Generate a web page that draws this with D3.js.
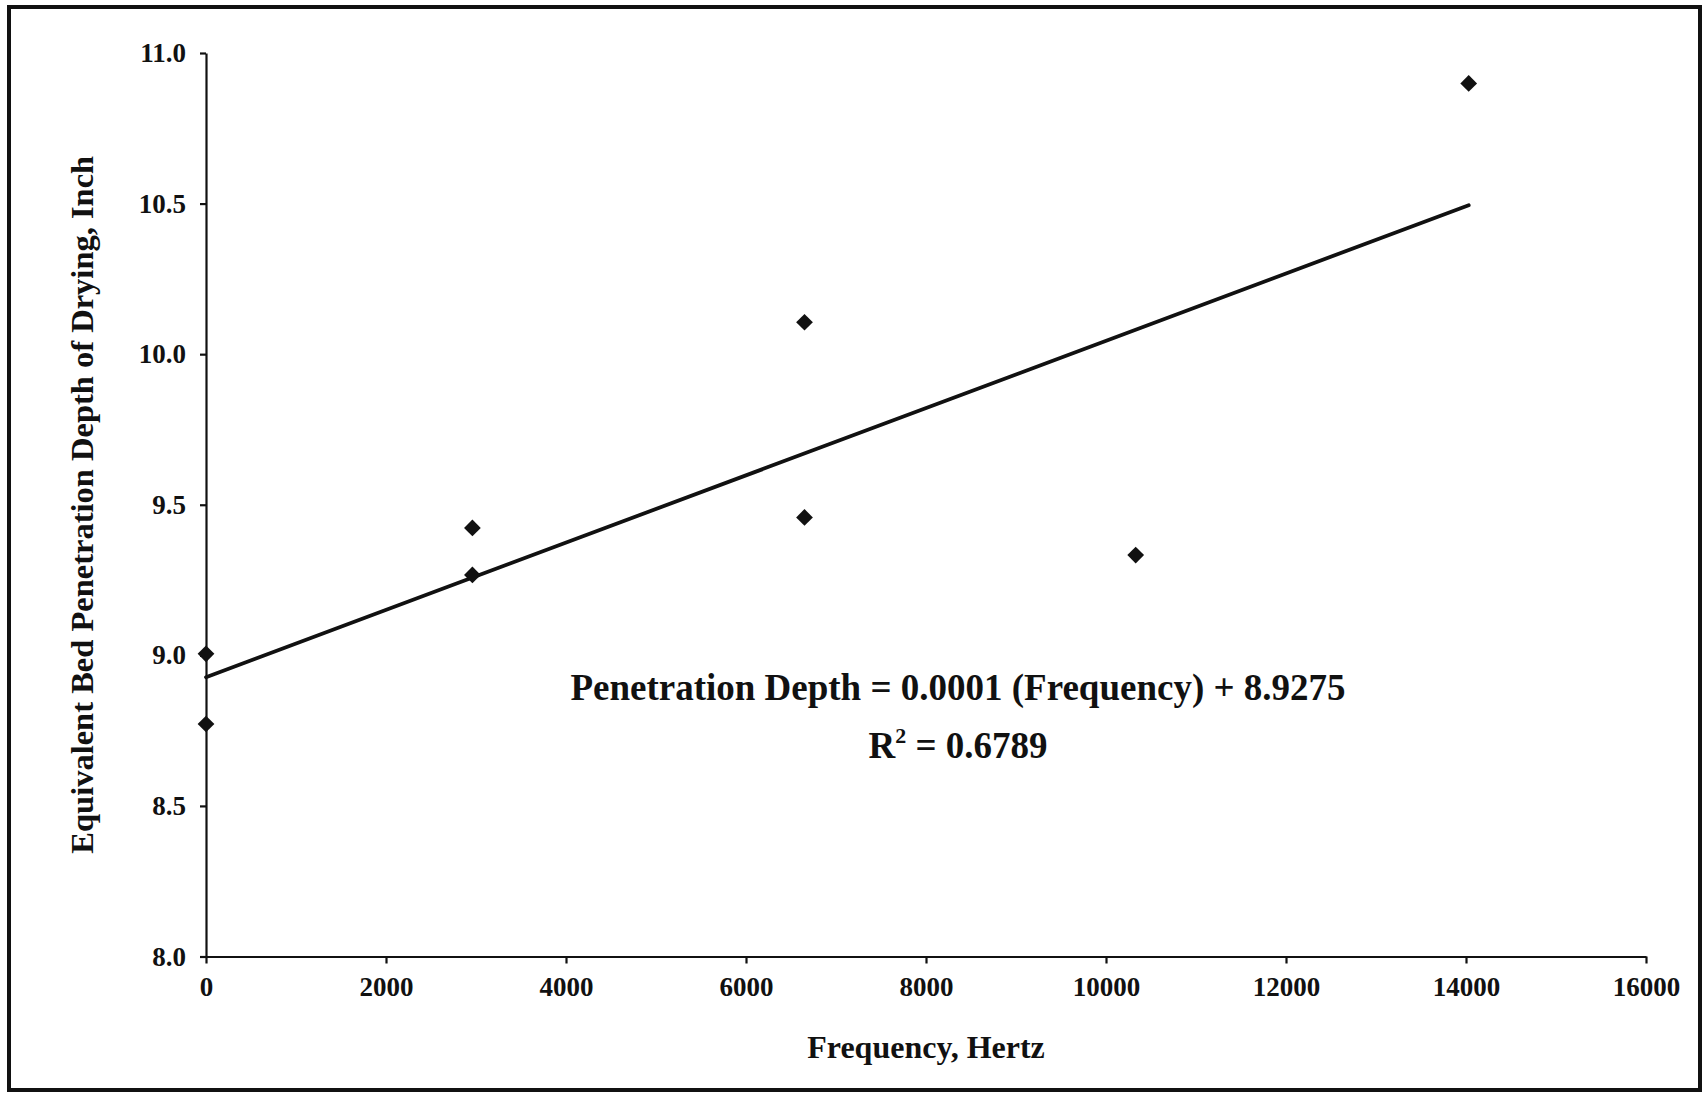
<!DOCTYPE html>
<html>
<head>
<meta charset="utf-8">
<script src="https://cdn.jsdelivr.net/npm/d3@7"></script>
<style>
  html, body { margin: 0; padding: 0; background: #fff; }
  svg { display: block; }
  text { font-family: "Liberation Serif", "Times New Roman", Times, serif; font-weight: bold; fill: #111; }
</style>
</head>
<body>
<svg id="chart" width="1707" height="1093"></svg>
<script>
// Measured samples: bed drying penetration depth vs. applied frequency
const frequency = [0, 0, 2960, 2960, 6650, 6650, 10330, 14030];
const depth = [9.005, 8.772, 9.423, 9.267, 10.106, 9.458, 9.333, 10.899];

// Axis ticks
const xTicks = [0, 2000, 4000, 6000, 8000, 10000, 12000, 14000, 16000];
const yTicks = [8.0, 8.5, 9.0, 9.5, 10.0, 10.5, 11.0];

// Linear fit drawn over the sampled frequency range
const fitIntercept = 8.9275;
const fitSlope = 0.0001117;
const fitRange = [0, 14030];

const xTitle = "Frequency, Hertz";
const yTitle = "Equivalent Bed Penetration Depth of Drying, Inch";
const fitLabel = "Penetration Depth = 0.0001 (Frequency) + 8.9275";
const r2Value = "0.6789";

const svg = d3.select("#chart");

// outer frame
svg.append("rect")
  .attr("x", 9).attr("y", 7)
  .attr("width", 1691).attr("height", 1083)
  .attr("fill", "none").attr("stroke", "#111").attr("stroke-width", 4);

const plot = { left: 206, right: 1646, top: 53, bottom: 956.5 };

const x = d3.scaleLinear().domain([0, 16000]).range([plot.left, plot.right]);
const y = d3.scaleLinear().domain([8, 11]).range([plot.bottom, plot.top]);

const tickFont = sel => sel
  .style("font-size", "27px")
  .attr("fill", "#111")
  .style("font-family", "'Liberation Serif', 'Times New Roman', serif")
  .style("font-weight", "bold");

// x axis
const xAxis = svg.append("g")
  .attr("transform", `translate(0,${plot.bottom})`)
  .call(d3.axisBottom(x).tickValues(xTicks).tickFormat(d3.format("d")).tickSizeInner(7).tickSizeOuter(0).tickPadding(13));
xAxis.select(".domain").attr("stroke", "#111").attr("stroke-width", 2.2);
xAxis.selectAll(".tick line").attr("stroke", "#111").attr("stroke-width", 2.2);
xAxis.selectAll(".tick text").call(tickFont);

// y axis
const yAxis = svg.append("g")
  .attr("transform", `translate(${plot.left},0)`)
  .call(d3.axisLeft(y).tickValues(yTicks).tickFormat(d3.format(".1f")).tickSizeInner(6).tickSizeOuter(0).tickPadding(14));
yAxis.select(".domain").attr("stroke", "#111").attr("stroke-width", 2.2);
yAxis.selectAll(".tick line").attr("stroke", "#111").attr("stroke-width", 2.2);
yAxis.selectAll(".tick text").call(tickFont);

// fitted trend line
const line = d3.line().x(d => x(d)).y(d => y(fitIntercept + fitSlope * d));
svg.append("path")
  .datum(fitRange)
  .attr("d", line)
  .attr("fill", "none")
  .attr("stroke", "#111")
  .attr("stroke-width", 3.8)
  .attr("stroke-linecap", "round");

// diamond markers
const diamond = d3.symbol().type(d3.symbolSquare).size(140);
svg.append("g").selectAll("path")
  .data(frequency.map((f, i) => [f, depth[i]]))
  .join("path")
  .attr("d", diamond)
  .attr("transform", d => `translate(${x(d[0])},${y(d[1])}) rotate(45)`)
  .attr("fill", "#111");

// axis titles
svg.append("text")
  .attr("x", (plot.left + plot.right) / 2)
  .attr("y", 1058)
  .attr("text-anchor", "middle")
  .style("font-size", "32px")
  .text(xTitle);

svg.append("text")
  .attr("transform", `translate(93,${(plot.top + plot.bottom) / 2}) rotate(-90)`)
  .attr("text-anchor", "middle")
  .style("font-size", "32.5px")
  .text(yTitle);

// fit annotation
svg.append("text")
  .attr("x", 958)
  .attr("y", 700)
  .attr("text-anchor", "middle")
  .style("font-size", "37px")
  .text(fitLabel);

const r2 = svg.append("text")
  .attr("x", 958)
  .attr("y", 758)
  .attr("text-anchor", "middle")
  .style("font-size", "37px");
r2.append("tspan").text("R");
r2.append("tspan").attr("dy", -15).style("font-size", "22px").text("2");
r2.append("tspan").attr("dy", 15).text(" = " + r2Value);
</script>
</body>
</html>
